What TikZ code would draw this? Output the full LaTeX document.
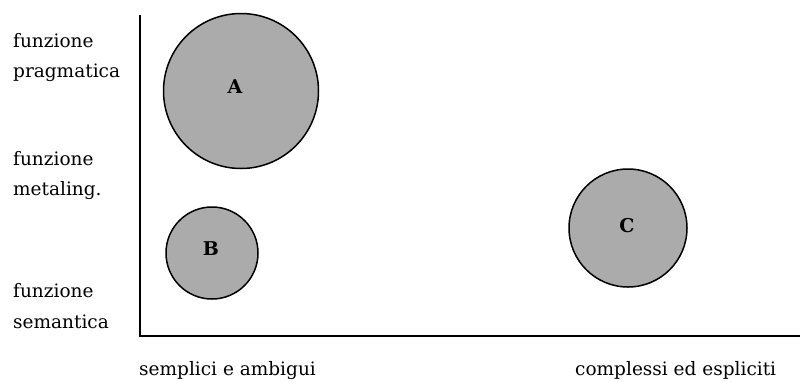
\documentclass[tikz,border=0pt]{standalone}
\usepackage{fontspec}
\setmainfont{DejaVu Serif}
\begin{document}
\begin{tikzpicture}[x=1pt,y=-1pt,
  axis/.style={line width=1.6pt, black},
  blob/.style={circle, draw=black, line width=1.5pt, fill=black!33, inner sep=0pt},
  lbl/.style={font=\fontsize{18.5}{20}\selectfont, anchor=base west, inner sep=0pt},
  letter/.style={font=\fontsize{19}{20}\selectfont\bfseries, inner sep=0pt}]
\useasboundingbox (0,0) rectangle (800,381);
% axes
\coordinate (top) at (140,15);
\coordinate (orig) at (140,336);
\coordinate (right) at (800,336);
\draw[axis] (top) -- (orig) -- (right);
% circles
\node[blob, minimum size=155pt] (A) at (241,91) {};
\node[blob, minimum size=92pt] (B) at (212,253) {};
\node[blob, minimum size=118pt] (C) at (628,228) {};
\node[letter] (la) at (235,87) {A};
\node[letter] (lb) at (211,249) {B};
\node[letter] (lc) at (627,226) {C};
% left labels
\node[lbl] (f1) at (13,47) {funzione};
\node[lbl] (f1b) at (13,77) {pragmatica};
\node[lbl] (f2) at (13,165) {funzione};
\node[lbl] (f2b) at (13,195) {metaling.};
\node[lbl] (f3) at (13,297) {funzione};
\node[lbl] (f3b) at (13,328) {semantica};
% bottom labels
\node[lbl] (xl) at (139,375) {semplici e ambigui};
\node[lbl] (xr) at (575,375) {complessi ed espliciti};
\end{tikzpicture}
\end{document}
